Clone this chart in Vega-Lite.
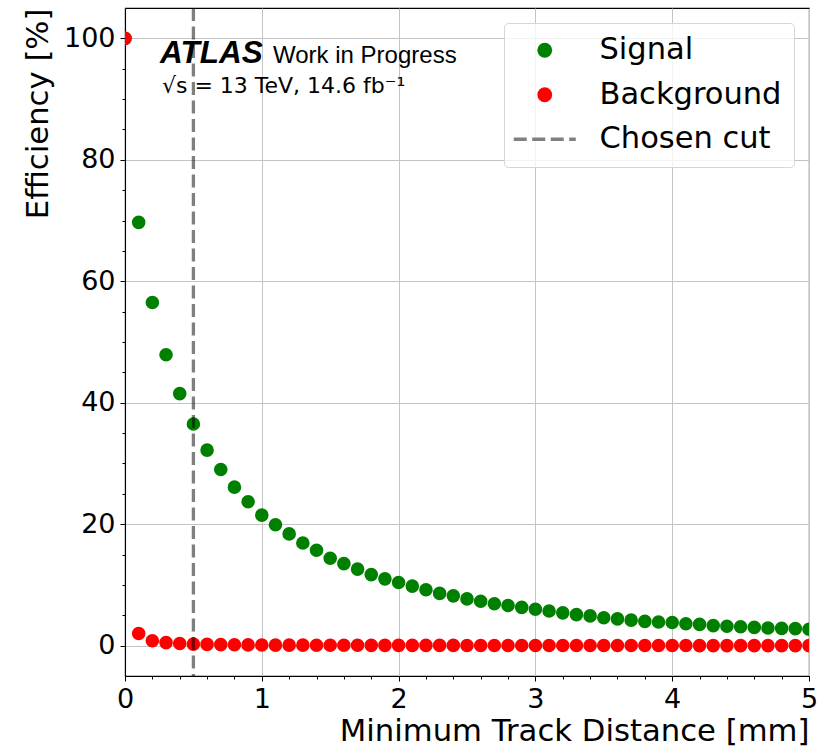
{
  "$schema": "https://vega.github.io/schema/vega-lite/v6.json",
  "width": 684,
  "height": 668,
  "autosize": {"type": "none"},
  "padding": {"left": 125, "top": 8, "right": 11, "bottom": 71},
  "background": "white",
  "config": {
    "font": "DejaVu Sans",
    "view": {"stroke": "black", "strokeWidth": 1.1},
    "axis": {
      "domainColor": "black",
      "domainWidth": 1.1,
      "tickColor": "black",
      "tickWidth": 1,
      "labelColor": "black",
      "labelFont": "DejaVu Sans",
      "labelFontSize": 27,
      "labelPadding": 5,
      "titleFont": "DejaVu Sans",
      "titleFontSize": 30.7,
      "titleFontWeight": "normal",
      "titleColor": "black",
      "gridColor": "#c4c4c4",
      "gridWidth": 1
    }
  },
  "layer": [
    {
      "data": {
        "values": [
          {"d": 0.0, "Signal": 100, "Background": 100},
          {"d": 0.1, "Signal": 69.7, "Background": 2.0},
          {"d": 0.2, "Signal": 56.5, "Background": 0.8},
          {"d": 0.3, "Signal": 47.9, "Background": 0.5},
          {"d": 0.4, "Signal": 41.5, "Background": 0.35},
          {"d": 0.5, "Signal": 36.5, "Background": 0.25},
          {"d": 0.6, "Signal": 32.2, "Background": 0.2},
          {"d": 0.7, "Signal": 29.0, "Background": 0.17},
          {"d": 0.8, "Signal": 26.1, "Background": 0.15},
          {"d": 0.9, "Signal": 23.7, "Background": 0.12},
          {"d": 1.0, "Signal": 21.5, "Background": 0.1},
          {"d": 1.1, "Signal": 19.9, "Background": 0.09},
          {"d": 1.2, "Signal": 18.4, "Background": 0.08},
          {"d": 1.3, "Signal": 16.9, "Background": 0.08},
          {"d": 1.4, "Signal": 15.7, "Background": 0.07},
          {"d": 1.5, "Signal": 14.4, "Background": 0.07},
          {"d": 1.6, "Signal": 13.5, "Background": 0.06},
          {"d": 1.7, "Signal": 12.6, "Background": 0.06},
          {"d": 1.8, "Signal": 11.7, "Background": 0.05},
          {"d": 1.9, "Signal": 11.0, "Background": 0.05},
          {"d": 2.0, "Signal": 10.4, "Background": 0.05},
          {"d": 2.1, "Signal": 9.8, "Background": 0.04},
          {"d": 2.2, "Signal": 9.2, "Background": 0.04},
          {"d": 2.3, "Signal": 8.6, "Background": 0.04},
          {"d": 2.4, "Signal": 8.2, "Background": 0.04},
          {"d": 2.5, "Signal": 7.7, "Background": 0.03},
          {"d": 2.6, "Signal": 7.3, "Background": 0.03},
          {"d": 2.7, "Signal": 6.9, "Background": 0.03},
          {"d": 2.8, "Signal": 6.6, "Background": 0.03},
          {"d": 2.9, "Signal": 6.3, "Background": 0.03},
          {"d": 3.0, "Signal": 6.0, "Background": 0.03},
          {"d": 3.1, "Signal": 5.7, "Background": 0.02},
          {"d": 3.2, "Signal": 5.4, "Background": 0.02},
          {"d": 3.3, "Signal": 5.1, "Background": 0.02},
          {"d": 3.4, "Signal": 4.9, "Background": 0.02},
          {"d": 3.5, "Signal": 4.6, "Background": 0.02},
          {"d": 3.6, "Signal": 4.4, "Background": 0.02},
          {"d": 3.7, "Signal": 4.2, "Background": 0.02},
          {"d": 3.8, "Signal": 4.0, "Background": 0.02},
          {"d": 3.9, "Signal": 3.9, "Background": 0.02},
          {"d": 4.0, "Signal": 3.8, "Background": 0.02},
          {"d": 4.1, "Signal": 3.6, "Background": 0.02},
          {"d": 4.2, "Signal": 3.5, "Background": 0.01},
          {"d": 4.3, "Signal": 3.3, "Background": 0.01},
          {"d": 4.4, "Signal": 3.2, "Background": 0.01},
          {"d": 4.5, "Signal": 3.1, "Background": 0.01},
          {"d": 4.6, "Signal": 3.0, "Background": 0.01},
          {"d": 4.7, "Signal": 2.9, "Background": 0.01},
          {"d": 4.8, "Signal": 2.85, "Background": 0.01},
          {"d": 4.9, "Signal": 2.8, "Background": 0.01},
          {"d": 5.0, "Signal": 2.7, "Background": 0.01}
        ]
      },
      "transform": [{"fold": ["Signal", "Background"], "as": ["type", "eff"]}],
      "mark": {"type": "point", "filled": true, "opacity": 1, "size": 185, "shape": "circle", "clip": true},
      "encoding": {
        "x": {
          "field": "d",
          "type": "quantitative",
          "scale": {"domain": [0, 5], "nice": false, "zero": false},
          "axis": {
            "title": "Minimum Track Distance [mm]",
            "titleAnchor": "end",
            "titlePadding": 4,
            "tickCount": 200,
            "values": [0, 0.2, 0.4, 0.6, 0.8, 1, 1.2, 1.4, 1.6, 1.8, 2, 2.2, 2.4, 2.6, 2.8, 3, 3.2, 3.4, 3.6, 3.8, 4, 4.2, 4.4, 4.6, 4.8, 5],
            "labelExpr": "abs(datum.value - round(datum.value)) < 0.01 ? toString(round(datum.value)) : ''",
            "tickSize": {"condition": {"test": "abs(datum.value - round(datum.value)) < 0.01", "value": 5}, "value": 3},
            "gridOpacity": {"condition": {"test": "abs(datum.value - round(datum.value)) < 0.01", "value": 1}, "value": 0},
            "grid": true,
            "labelFlush": false,
            "labelOverlap": false
          }
        },
        "y": {
          "field": "eff",
          "type": "quantitative",
          "scale": {"domain": [-5, 105], "nice": false, "zero": false},
          "axis": {
            "title": "Efficiency [%]",
            "titleAnchor": "end",
            "titlePadding": 10,
            "tickCount": 200,
            "values": [0, 5, 10, 15, 20, 25, 30, 35, 40, 45, 50, 55, 60, 65, 70, 75, 80, 85, 90, 95, 100],
            "labelExpr": "datum.value % 20 === 0 ? toString(datum.value) : ''",
            "tickSize": {"condition": {"test": "datum.value % 20 === 0", "value": 5}, "value": 3},
            "gridOpacity": {"condition": {"test": "datum.value % 20 === 0", "value": 1}, "value": 0},
            "grid": true,
            "labelFlush": false,
            "labelOverlap": false
          }
        },
        "color": {
          "field": "type",
          "type": "nominal",
          "scale": {"domain": ["Signal", "Background", "Chosen cut"], "range": ["#008000", "#ff0000", "#808080"]},
          "legend": {
            "title": null,
            "orient": "top-right",
            "offset": 15,
            "fillColor": "rgba(255,255,255,0.8)",
            "strokeColor": "#d6d6d6",
            "cornerRadius": 4,
            "padding": 12,
            "labelFont": "DejaVu Sans",
            "labelFontSize": 30.5,
            "labelColor": "black",
            "labelOffset": 39.5,
            "labelLimit": 400,
            "symbolSize": 1600,
            "symbolOffset": 13.5,
            "rowPadding": 13.5,
            "symbolOpacity": 1,
            "encode": {
              "symbols": {
                "update": {
                  "shape": {"signal": "datum.value === 'Chosen cut' ? 'stroke' : 'circle'"},
                  "size": {"signal": "datum.value === 'Chosen cut' ? 3844 : 220"},
                  "fill": {"signal": "datum.value === 'Chosen cut' ? 'transparent' : (datum.value === 'Signal' ? '#008000' : '#ff0000')"},
                  "stroke": {"signal": "datum.value === 'Chosen cut' ? '#808080' : 'transparent'"},
                  "strokeWidth": {"signal": "datum.value === 'Chosen cut' ? 3.3 : 0"},
                  "strokeDash": {"signal": "datum.value === 'Chosen cut' ? [13, 5.5] : [1, 0]"},
                  "opacity": {"value": 1}
                }
              }
            }
          }
        }
      }
    },
    {
      "data": {"values": [{"cut": 0.5}]},
      "mark": {"type": "rule", "strokeDash": [13, 5.5], "strokeWidth": 3.3, "color": "black", "opacity": 0.5},
      "encoding": {
        "x": {"field": "cut", "type": "quantitative"}
      }
    },
    {
      "data": {"values": [{"x": 0.256, "y": 96.0, "t": "ATLAS"}]},
      "mark": {"type": "text", "font": "Liberation Sans", "fontSize": 31.5, "fontWeight": "bold", "fontStyle": "italic", "align": "left", "baseline": "alphabetic", "color": "black"},
      "encoding": {
        "x": {"field": "x", "type": "quantitative"},
        "y": {"field": "y", "type": "quantitative"},
        "text": {"field": "t"}
      }
    },
    {
      "data": {"values": [{"x": 1.082, "y": 96.0, "t": "Work in Progress"}]},
      "mark": {"type": "text", "font": "Liberation Sans", "fontSize": 24, "align": "left", "baseline": "alphabetic", "color": "black"},
      "encoding": {
        "x": {"field": "x", "type": "quantitative"},
        "y": {"field": "y", "type": "quantitative"},
        "text": {"field": "t"}
      }
    },
    {
      "data": {"values": [{"x": 0.27, "y": 91.05, "t": "√s = 13 TeV, 14.6 fb⁻¹"}]},
      "mark": {"type": "text", "font": "DejaVu Sans", "fontSize": 22, "align": "left", "baseline": "alphabetic", "color": "black"},
      "encoding": {
        "x": {"field": "x", "type": "quantitative"},
        "y": {"field": "y", "type": "quantitative"},
        "text": {"field": "t"}
      }
    }
  ]
}
